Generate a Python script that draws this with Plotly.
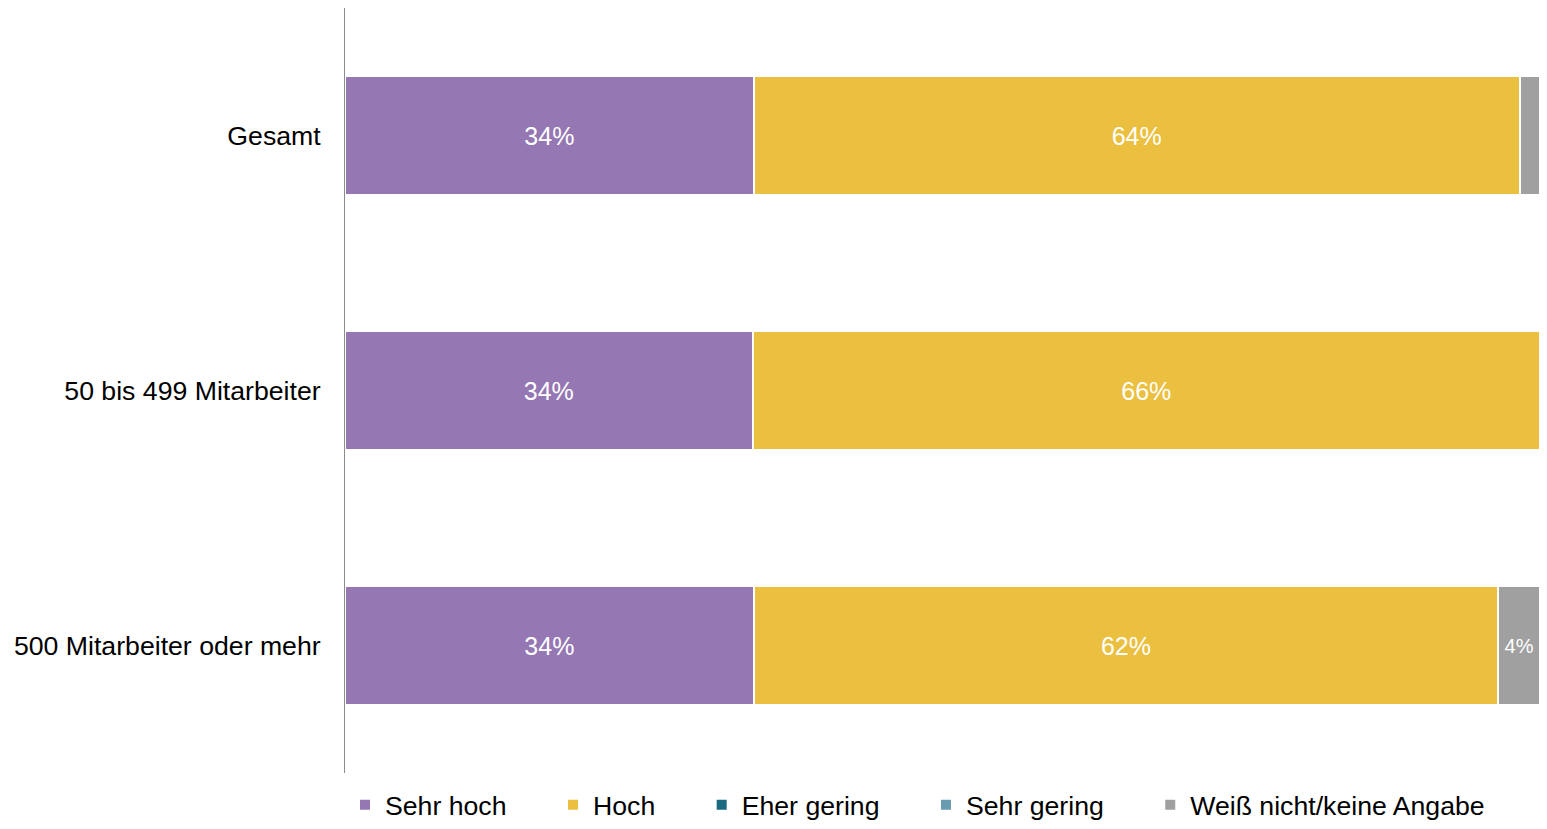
import plotly.graph_objects as go

categories = ["Gesamt", "50 bis 499 Mitarbeiter", "500 Mitarbeiter oder mehr"]
series_names = ["Sehr hoch", "Hoch", "Eher gering", "Sehr gering", "Weiß nicht/keine Angabe"]
sehr_hoch = [34.2, 34.1, 34.2]
hoch = [64.1, 65.9, 62.3]
eher_gering = [0, 0, 0]
sehr_gering = [0, 0, 0]
weiss_nicht = [1.7, 0, 3.5]
colors = ["#9477B3", "#EBBF40", "#1B6A80", "#6A9CB0", "#A0A0A0"]

series = [sehr_hoch, hoch, eher_gering, sehr_gering, weiss_nicht]

FONT = "Liberation Sans, Arial, sans-serif"
PAD = "\u00a0" * 5 + "\u2006"

fig = go.Figure()
for i, (name, vals, col) in enumerate(zip(series_names, series, colors)):
    texts = [f"{round(v)}%" if v >= 3 else "" for v in vals]
    sizes = [25 if v >= 10 else 20 for v in vals]
    label = name + (PAD if i < len(series_names) - 1 else "")
    fig.add_trace(go.Bar(
        y=categories, x=vals, name=label, orientation="h",
        marker=dict(color=col, line=dict(color="white", width=2)),
        text=texts, textposition="inside", insidetextanchor="middle",
        textfont=dict(color="white", size=sizes, family=FONT),
        hoverinfo="x+name",
    ))

fig.update_layout(
    barmode="stack",
    bargap=0.537,
    width=1539, height=821,
    margin=dict(l=337, r=7, t=0, b=56, autoexpand=False),
    paper_bgcolor="white", plot_bgcolor="white",
    font=dict(family=FONT, size=26.67, color="black"),
    xaxis=dict(range=[0, 100], visible=False, showgrid=False, zeroline=False),
    yaxis=dict(autorange="reversed", showline=True, linecolor="#8C8C8C", linewidth=1,
               showgrid=False, ticks="", ticklabelstandoff=18,
               tickfont=dict(size=26.67, color="black")),
    legend=dict(orientation="h", x=0.0, xanchor="left",
                yref="container", y=0.0, yanchor="bottom",
                font=dict(size=26.67, color="black"), itemwidth=30,
                traceorder="normal"),
)

fig.write_html("out.html")
